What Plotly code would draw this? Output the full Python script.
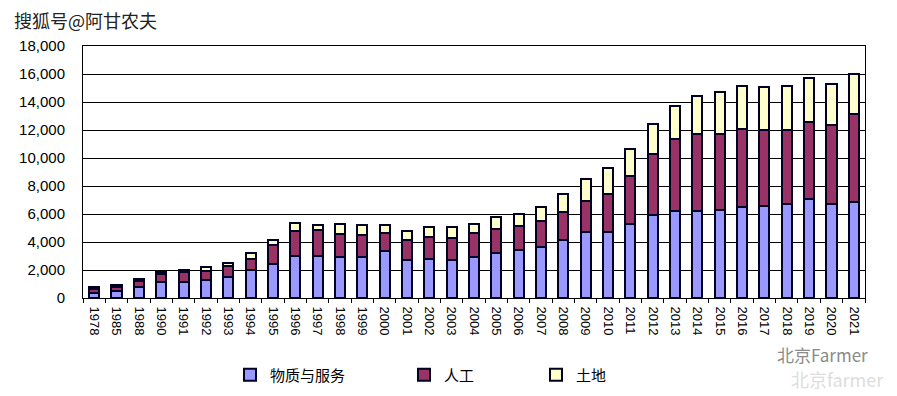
import plotly.graph_objects as go

years = ["1978", "1985", "1988", "1990", "1991", "1992", "1993", "1994", "1995", "1996",
         "1997", "1998", "1999", "2000", "2001", "2002", "2003", "2004", "2005", "2006",
         "2007", "2008", "2009", "2010", "2011", "2012", "2013", "2014", "2015", "2016",
         "2017", "2018", "2019", "2020", "2021"]

material = [330, 520, 810, 1140, 1140, 1290, 1500, 2000, 2430, 3000,
            3000, 2920, 2950, 3330, 2710, 2790, 2710, 2900, 3190, 3430,
            3620, 4140, 4690, 4690, 5310, 5930, 6210, 6210, 6290, 6480,
            6600, 6710, 7070, 6710, 6880]

labor = [290, 290, 400, 550, 690, 660, 760, 810, 1360, 1790,
         1880, 1640, 1530, 1310, 1430, 1540, 1550, 1740, 1760, 1730,
         1880, 2000, 2250, 2740, 3430, 4360, 5150, 5500, 5420, 5590,
         5400, 5290, 5530, 5650, 6260]

land = [190, 140, 170, 190, 190, 260, 260, 380, 350, 590,
        360, 750, 730, 570, 670, 740, 790, 650, 840, 860,
        980, 1290, 1580, 1830, 1930, 2160, 2380, 2740, 3000, 3100,
        3100, 3170, 3110, 2950, 2880]

series_names = ["物质与服务", "人工", "土地"]
series_colors = ["#9999FF", "#993366", "#FFFFCC"]
y_ticks = list(range(0, 18001, 2000))

FONT = "Liberation Sans, Arial, Noto Sans CJK SC, sans-serif"
W, H = 897, 396
PL, PR, PT, PB = 83, 865, 46, 298
PW, PH = PR - PL, PB - PT

fig = go.Figure()
legend_ids = ["legend", "legend2", "legend3"]
legend_px = [230, 404, 536]
for name, vals, col, lg in zip(series_names, [material, labor, land], series_colors, legend_ids):
    fig.add_trace(go.Bar(
        x=years, y=vals, name=name, legend=lg, showlegend=True,
        marker=dict(color=col, line=dict(color="#000022", width=2)),
    ))

legend_common = dict(
    orientation="h", xref="container", yref="container",
    yanchor="middle", xanchor="left", y=1 - 375 / H,
    font=dict(family=FONT, size=15, color="#000000"),
    bgcolor="rgba(0,0,0,0)", borderwidth=0,
)

fig.update_layout(
    width=W, height=H, showlegend=True,
    margin=dict(l=PL, r=W - PR, t=PT, b=H - PB, autoexpand=False),
    barmode="stack", bargap=0.55,
    plot_bgcolor="white", paper_bgcolor="white",
    font=dict(family=FONT, color="#000000"),
    legend=dict(x=legend_px[0] / W, **legend_common),
    legend2=dict(x=legend_px[1] / W, **legend_common),
    legend3=dict(x=legend_px[2] / W, **legend_common),
    xaxis=dict(
        type="category", tickangle=90, tickson="boundaries",
        ticks="outside", ticklen=4, tickcolor="#000000",
        showline=True, linecolor="#000000", linewidth=1, mirror=True,
        showgrid=False, tickfont=dict(family=FONT, size=13, color="#000000"),
        ticklabelstandoff=5, automargin=False,
    ),
    yaxis=dict(
        range=[0, 18000], tickvals=y_ticks, tickformat=",",
        showgrid=True, gridcolor="#000000", gridwidth=1,
        showline=True, linecolor="#000000", linewidth=1, mirror=True,
        zeroline=False, tickfont=dict(family=FONT, size=15, color="#000000"),
        ticklabelstandoff=14, automargin=False,
    ),
    annotations=[
        dict(text="搜狐号@阿甘农夫", xref="paper", yref="paper", x=(12 - PL) / PW,
             y=1 + 26 / PH, xanchor="left", yanchor="middle", showarrow=False,
             font=dict(family="Noto Sans CJK SC", size=18, color="#222222")),
        dict(text="北京Farmer", xref="paper", yref="paper", x=(870 - PL) / PW,
             y=(PB - 354) / PH, xanchor="right", yanchor="middle", showarrow=False,
             font=dict(family="Noto Sans CJK SC", size=17, color="#8a8a8a")),
        dict(text="北京farmer", xref="paper", yref="paper", x=(886 - PL) / PW,
             y=(PB - 379) / PH, xanchor="right", yanchor="middle", showarrow=False,
             font=dict(family="Noto Sans CJK SC", size=18, color="#dddddd")),
    ],
)

fig.write_html("out.html", config={"displayModeBar": False},
               post_script="document.body.style.margin='0px';document.body.style.padding='0px';")
